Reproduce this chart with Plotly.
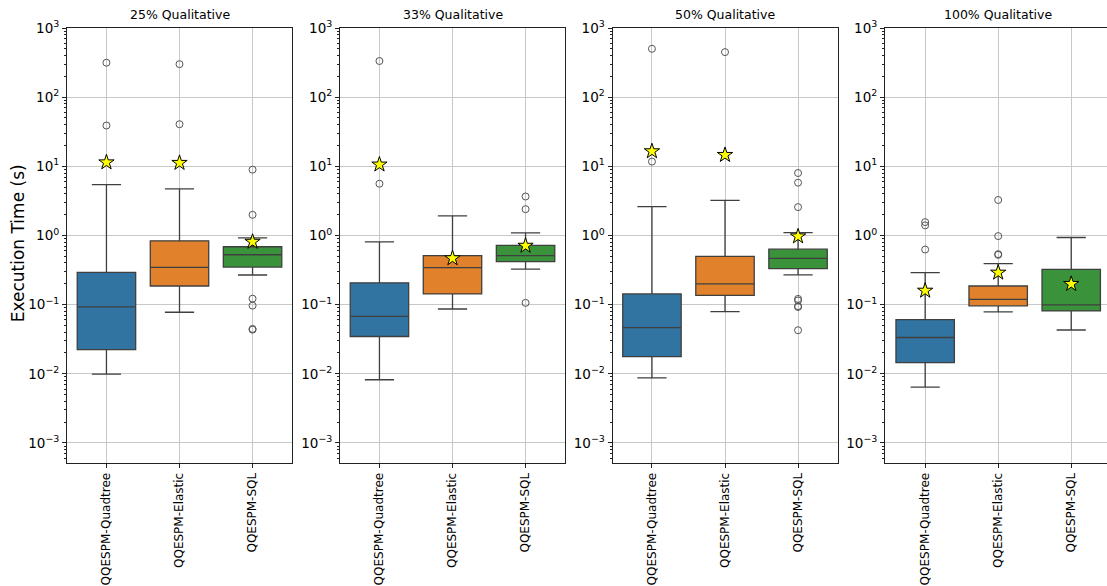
import plotly.graph_objects as go

methods = ["QQESPM-Quadtree", "QQESPM-Elastic", "QQESPM-SQL"]
panels = ["25% Qualitative", "33% Qualitative", "50% Qualitative", "100% Qualitative"]
colors = ["#3274a1", "#e1812c", "#3a923a"]

# per panel, per method
lower_whisker = [
    [0.0099, 0.0776, 0.268],
    [0.0082, 0.0865, 0.326],
    [0.0087, 0.079, 0.27],
    [0.0064, 0.0786, 0.043],
]
q1 = [
    [0.0224, 0.186, 0.349],
    [0.0346, 0.143, 0.42],
    [0.0177, 0.136, 0.331],
    [0.0145, 0.096, 0.081],
]
median = [
    [0.0925, 0.345, 0.526],
    [0.0676, 0.342, 0.51],
    [0.0465, 0.2, 0.465],
    [0.0335, 0.119, 0.099],
]
q3 = [
    [0.292, 0.838, 0.687],
    [0.207, 0.51, 0.72],
    [0.143, 0.497, 0.634],
    [0.0605, 0.186, 0.324],
]
upper_whisker = [
    [5.44, 4.71, 0.925],
    [0.81, 1.92, 1.09],
    [2.62, 3.21, 1.1],
    [0.29, 0.392, 0.935],
]
means = [
    [11.4, 11.2, 0.81],
    [10.6, 0.468, 0.71],
    [16.5, 14.6, 0.97],
    [0.159, 0.29, 0.199],
]
outliers = [
    [[315, 38.9], [300, 40.6], [8.95, 1.99, 0.122, 0.0968, 0.0445, 0.0435]],
    [[333, 5.6], [], [3.66, 2.4, 0.106]],
    [[500, 11.7], [448], [8.0, 5.8, 2.57, 0.121, 0.115, 0.095, 0.0925, 0.0426]],
    [[1.56, 1.40, 0.626], [3.26, 0.98, 0.537, 0.525], []],
]

ytickvals = [1e-3, 1e-2, 1e-1, 1e0, 1e1, 1e2, 1e3]
yticktext = ["10<sup>−3</sup>", "10<sup>−2</sup>", "10<sup>−1</sup>", "10<sup>0</sup>",
             "10<sup>1</sup>", "10<sup>2</sup>", "10<sup>3</sup>"]
minor_vals = [k * 10.0 ** e for e in range(-4, 3) for k in range(2, 10)]

W, H = 1107, 586
ML, MR, MT, MB = 67, 0, 28, 123
PW = W - ML - MR
px_domains = [(67, 292), (340, 565), (612.5, 837.5), (885, 1107)]
xranges = [[-0.54, 2.54], [-0.54, 2.54], [-0.54, 2.54], [-0.55, 2.49]]

fig = go.Figure()
FONT = "DejaVu Sans"
edge = "#3f3f3f"

layout = dict(
    width=W, height=H,
    margin=dict(l=ML, r=MR, t=MT, b=MB, pad=0),
    paper_bgcolor="white", plot_bgcolor="white",
    showlegend=False,
    font=dict(family=FONT, size=12, color="#000"),
    annotations=[],
)

for p in range(4):
    ax = "" if p == 0 else str(p + 1)
    xa, ya = "x" + ax, "y" + ax
    for m in range(3):
        fig.add_trace(go.Box(
            x=[methods[m]], q1=[q1[p][m]], median=[median[p][m]], q3=[q3[p][m]],
            lowerfence=[lower_whisker[p][m]], upperfence=[upper_whisker[p][m]],
            width=0.8, whiskerwidth=0.5, fillcolor=colors[m],
            line=dict(color=edge, width=1.3), boxpoints=False,
            xaxis=xa, yaxis=ya, hoverinfo="skip",
        ))
    for m in range(3):
        if outliers[p][m]:
            fig.add_trace(go.Scatter(
                x=[methods[m]] * len(outliers[p][m]), y=outliers[p][m], mode="markers",
                marker=dict(symbol="circle-open", size=7, color="#555555", line=dict(width=1)),
                xaxis=xa, yaxis=ya, hoverinfo="skip",
            ))
    fig.add_trace(go.Scatter(
        x=methods, y=means[p], mode="markers",
        marker=dict(symbol="star", size=11.5, color="#ffff00", line=dict(color="#000", width=1)),
        xaxis=xa, yaxis=ya, hoverinfo="skip",
    ))
    d0 = (px_domains[p][0] - ML) / PW
    d1 = min(1.0, (px_domains[p][1] - ML) / PW)
    layout["xaxis" + ax] = dict(
        domain=[d0, d1], anchor=ya, type="category", categoryorder="array",
        categoryarray=methods, range=xranges[p], tickangle=-90,
        showgrid=True, gridcolor="#c8c8c8", gridwidth=1,
        showline=True, mirror=True, linecolor="#222", linewidth=1,
        ticks="outside", ticklen=4, tickcolor="#222",
        tickfont=dict(family=FONT, size=12, color="#000"),
        zeroline=False, fixedrange=True,
    )
    layout["yaxis" + ax] = dict(
        domain=[0, 1], anchor=xa, type="log", range=[-3.29, 3],
        tickvals=ytickvals, ticktext=yticktext,
        showgrid=True, gridcolor="#c8c8c8", gridwidth=1,
        showline=True, mirror=True, linecolor="#222", linewidth=1,
        ticks="outside", ticklen=4, tickcolor="#222",
        tickfont=dict(family=FONT, size=13.5, color="#000"),
        minor=dict(tickvals=minor_vals, ticks="outside", ticklen=2, tickcolor="#222", showgrid=False),
        zeroline=False, fixedrange=True,
    )
    layout["annotations"].append(dict(
        text=panels[p], xref="paper", yref="paper",
        x=(px_domains[p][0] + 112.5 - ML) / PW,
        y=1, yanchor="bottom", xanchor="center", yshift=4, showarrow=False,
        font=dict(family=FONT, size=12.5, color="#000"),
    ))

layout["annotations"].append(dict(
    text="Execution Time (s)", xref="paper", yref="paper",
    x=(18 - ML) / PW, y=0.505, xanchor="center", yanchor="middle",
    textangle=-90, showarrow=False,
    font=dict(family=FONT, size=17, color="#000"),
))

fig.update_layout(**layout)
fig.write_html("out.html")
